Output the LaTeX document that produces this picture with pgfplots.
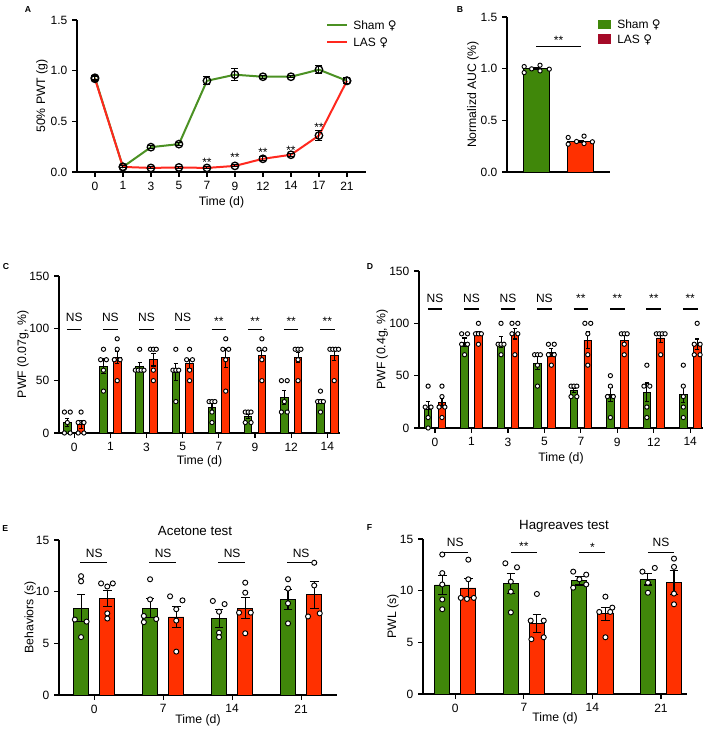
\documentclass[border=0pt]{standalone}
\usepackage{fontspec}
\setmainfont{Liberation Sans}
\newfontfamily\symf{DejaVu Sans}
\usepackage{pgfplots}
\pgfplotsset{compat=1.18}

\definecolor{shamg}{RGB}{64,135,10}
\definecolor{lasr}{RGB}{255,48,0}
\definecolor{lasleg}{RGB}{165,10,40}
\definecolor{shamline}{RGB}{75,145,35}
\definecolor{lasline}{RGB}{255,40,30}

\tikzset{
  sig/.style={font=\fontsize{9}{10}\selectfont, inner sep=0pt},
  star/.style={sig, yshift=-1.9pt},
}

\pgfplotsset{
  prism/.style={
    scale only axis, clip=false,
    axis lines=left, axis line style={-, line width=0.9pt},
    tick align=outside, major tick length=3.75pt,
    tick style={black, line width=0.9pt},
    ymin=0,
    tick label style={font=\fontsize{9}{10}\selectfont},
    label style={font=\fontsize{9.2}{11}\selectfont},
    /pgf/number format/assume math mode=true,
    xlabel={Time (d)},
    xlabel style={at={(axis description cs:0.5,0)}, anchor=center, yshift=-#1},
  },
  prism/.default=18.75pt,
  bars/.style={ybar, bar shift=0, draw=black, line width=0.7pt,
    error bars/y dir=both, error bars/y explicit,
    error bars/error bar style={black, line width=0.8pt},
    error bars/error mark options={rotate=90, mark size=#1, line width=0.8pt}},
  dots/.style={only marks, mark=*, mark size=#1,
    mark options={fill=white, draw=black, line width=0.7pt}},
}

\begin{document}
\begin{tikzpicture}
\path[use as bounding box] (0,0) rectangle (531pt,547.5pt);

% ---------------- A ----------------
\begin{axis}[prism=22.5pt, at={(57.75pt,418.5pt)}, anchor=south west,
  width=216.75pt, height=114pt,
  xmin=-0.64, xmax=9.68, ymax=1.5,
  xtick={0,...,9}, xticklabels={0,1,3,5,7,9,12,14,17,21},
  ytick={0,0.5,1,1.5},
  yticklabel style={/pgf/number format/fixed, /pgf/number format/fixed zerofill, /pgf/number format/precision=1},
  ylabel={50\% PWT (g)},
  ylabel style={at={(axis description cs:-0.121,0.5)}, anchor=center}]
\addplot[shamline, line width=1.5pt] coordinates {(0,0.93)(1,0.05)(2,0.245)(3,0.275)(4,0.90)(5,0.96)(6,0.94)(7,0.94)(8,1.01)(9,0.90)};
\addplot[lasline, line width=1.5pt] coordinates {(0,0.92)(1,0.05)(2,0.04)(3,0.045)(4,0.04)(5,0.06)(6,0.13)(7,0.17)(8,0.36)(9,0.90)};
\addplot[black, only marks, mark=o, mark size=2.8pt, mark options={line width=1pt},
  error bars/y dir=both, error bars/y explicit,
  error bars/error bar style={black, line width=0.8pt},
  error bars/error mark options={rotate=90, mark size=2.6pt, line width=0.8pt}]
  coordinates {(0,0.93)+-(0,0.02) (1,0.05)+-(0,0.01) (2,0.245)+-(0,0.015) (3,0.275)+-(0,0.015) (4,0.90)+-(0,0.04) (5,0.96)+-(0,0.06) (6,0.94)+-(0,0.015) (7,0.94)+-(0,0.012) (8,1.01)+-(0,0.04) (9,0.90)+-(0,0.03)};
\addplot[black, only marks, mark=o, mark size=2.8pt, mark options={line width=1pt},
  error bars/y dir=both, error bars/y explicit,
  error bars/error bar style={black, line width=0.8pt},
  error bars/error mark options={rotate=90, mark size=2.6pt, line width=0.8pt}]
  coordinates {(0,0.92)+-(0,0.02) (1,0.05)+-(0,0.01) (2,0.04)+-(0,0.01) (3,0.045)+-(0,0.01) (4,0.04)+-(0,0.01) (5,0.06)+-(0,0.01) (6,0.13)+-(0,0.02) (7,0.17)+-(0,0.015) (8,0.36)+-(0,0.05) (9,0.90)+-(0,0.03)};
\node[star] at (axis cs:4,0.115) {**};
\node[star] at (axis cs:5,0.165) {**};
\node[star] at (axis cs:6,0.215) {**};
\node[star] at (axis cs:7,0.24) {**};
\node[star] at (axis cs:8,0.465) {**};
\end{axis}

% ---------------- B ----------------
\begin{axis}[prism, at={(380.25pt,418.5pt)}, anchor=south west,
  width=77.25pt, height=116.25pt,
  xmin=-0.66, xmax=1.68, ymax=1.5, xtick=\empty, xlabel={},
  ytick={0,0.5,1,1.5},
  yticklabel style={/pgf/number format/fixed, /pgf/number format/fixed zerofill, /pgf/number format/precision=1},
  ylabel={Normalizd AUC (\%)},
  ylabel style={at={(axis description cs:-0.33,0.5)}, anchor=center}]
\addplot[bars=2.6pt, bar width=0.59, fill=shamg] coordinates {(0,1.0)+-(0,0.012)};
\addplot[bars=2.6pt, bar width=0.59, fill=lasr] coordinates {(1,0.295)+-(0,0.012)};
\addplot[dots=1.6pt] coordinates {(-0.27,1.02)(-0.27,0.962)(-0.1,0.998)(0.09,1.033)(0.09,0.978)(0.30,0.995)};
\addplot[dots=1.6pt] coordinates {(0.73,0.334)(0.73,0.269)(0.92,0.295)(1.09,0.347)(1.09,0.275)(1.28,0.292)};
\draw[black, line width=0.8pt] (axis cs:0,1.21) -- (axis cs:1.02,1.21);
\node[star] at (axis cs:0.51,1.297) {**};
\end{axis}

% ---------------- C ----------------
\begin{axis}[prism=21pt, at={(44.25pt,222.75pt)}, anchor=south west,
  width=210.75pt, height=117.75pt,
  xmin=-0.42, xmax=7.35, ymax=150,
  xtick={0,...,7}, xticklabels={0,1,3,5,7,9,12,14},
  ytick={0,50,100,150},
  ylabel={PWF (0.07g, \%)},
  ylabel style={at={(axis description cs:-0.128,0.5)}, anchor=center}]
\addplot[bars=1.6pt, bar width=0.21, fill=shamg] coordinates {
  (-0.19,10)+-(0,4) (0.81,64)+-(0,7) (1.81,64)+-(0,3) (2.81,58)+-(0,8) (3.81,24)+-(0,5) (4.81,16)+-(0,2) (5.81,34)+-(0,7) (6.81,30)+-(0,2)};
\addplot[bars=1.6pt, bar width=0.21, fill=lasr] coordinates {
  (0.19,8)+-(0,4) (1.19,72)+-(0,6) (2.19,70)+-(0,6) (3.19,66)+-(0,4) (4.19,72)+-(0,9) (5.19,74)+-(0,5) (6.19,72)+-(0,5) (7.19,74)+-(0,5)};
\addplot[dots=1.6pt] coordinates {
  (-0.27,20)(-0.11,20)(-0.19,10)(-0.27,0)(-0.11,0)
  (0.81,80)(0.73,70)(0.89,70)(0.81,60)(0.81,40)
  (1.81,80)(1.69,60)(1.77,60)(1.85,60)(1.93,60)
  (2.81,80)(2.73,60)(2.81,60)(2.89,60)(2.81,30)
  (3.73,30)(3.81,30)(3.89,30)(3.81,20)(3.81,10)
  (4.73,20)(4.81,20)(4.89,20)(4.73,10)(4.89,10)
  (5.73,50)(5.89,50)(5.81,30)(5.73,20)(5.89,20)
  (6.81,40)(6.73,30)(6.81,30)(6.89,30)(6.81,20)};
\addplot[dots=1.6pt] coordinates {
  (0.19,20)(0.11,10)(0.27,10)(0.11,0)(0.27,0)
  (1.19,90)(1.19,80)(1.11,70)(1.27,70)(1.19,50)
  (2.11,80)(2.19,80)(2.27,80)(2.19,60)(2.19,50)
  (3.19,80)(3.11,70)(3.27,70)(3.19,60)(3.19,50)
  (4.19,90)(4.11,80)(4.27,80)(4.19,70)(4.19,40)
  (5.19,90)(5.11,80)(5.27,80)(5.19,70)(5.19,50)
  (6.11,80)(6.19,80)(6.27,80)(6.19,70)(6.19,50)
  (7.07,80)(7.15,80)(7.23,80)(7.31,80)(7.19,50)};
\pgfplotsinvokeforeach{0,...,7}{\draw[black, line width=0.8pt] (axis cs:#1-0.2,99) -- (axis cs:#1+0.2,99);}
\pgfplotsinvokeforeach{0,...,3}{\node[sig] at (axis cs:#1,110.8) {NS};}
\pgfplotsinvokeforeach{4,...,7}{\node[star] at (axis cs:#1,108.9) {**};}
\end{axis}

% ---------------- D ----------------
\begin{axis}[prism=23pt, at={(314.25pt,226.5pt)}, anchor=south west,
  width=213pt, height=117.75pt,
  xmin=-0.44, xmax=7.35, ymax=150,
  xtick={0,...,7}, xticklabels={0,1,3,5,7,9,12,14},
  ytick={0,50,100,150},
  ylabel={PWF (0.4g, \%)},
  ylabel style={at={(axis description cs:-0.130,0.5)}, anchor=center}]
\addplot[bars=1.6pt, bar width=0.21, fill=shamg] coordinates {
  (-0.19,18)+-(0,7) (0.81,82)+-(0,4) (1.81,82)+-(0,5) (2.81,62)+-(0,6) (3.81,36)+-(0,2) (4.81,32)+-(0,7) (5.81,34)+-(0,9) (6.81,32)+-(0,8)};
\addplot[bars=1.6pt, bar width=0.21, fill=lasr] coordinates {
  (0.19,24)+-(0,4) (1.19,90)+-(0,2) (2.19,90)+-(0,5) (3.19,72)+-(0,4) (4.19,84)+-(0,8) (5.19,84)+-(0,4) (6.19,86)+-(0,4) (7.19,80)+-(0,5)};
\addplot[dots=1.6pt] coordinates {
  (-0.19,40)(-0.27,20)(-0.11,20)(-0.19,10)(-0.19,0)
  (0.73,90)(0.89,90)(0.73,80)(0.89,80)(0.81,70)
  (1.81,100)(1.73,80)(1.81,80)(1.89,80)(1.81,70)
  (2.73,70)(2.81,70)(2.89,70)(2.81,60)(2.81,40)
  (3.73,40)(3.81,40)(3.89,40)(3.73,30)(3.89,30)
  (4.81,50)(4.81,40)(4.73,30)(4.89,30)(4.81,10)
  (5.81,60)(5.73,40)(5.89,40)(5.81,20)(5.81,10)
  (6.81,60)(6.81,40)(6.81,30)(6.81,20)(6.81,10)};
\addplot[dots=1.6pt] coordinates {
  (0.19,40)(0.19,30)(0.11,20)(0.27,20)(0.19,10)
  (1.19,100)(1.11,90)(1.19,90)(1.27,90)(1.19,80)
  (2.11,100)(2.27,100)(2.11,90)(2.27,90)(2.19,70)
  (3.11,80)(3.27,80)(3.11,70)(3.27,70)(3.19,60)
  (4.11,100)(4.27,100)(4.19,90)(4.19,70)(4.19,60)
  (5.11,90)(5.19,90)(5.27,90)(5.19,80)(5.19,70)
  (6.07,90)(6.15,90)(6.23,90)(6.31,90)(6.19,70)
  (7.19,100)(7.11,80)(7.27,80)(7.11,70)(7.27,70)};
\pgfplotsinvokeforeach{0,...,7}{\draw[black, line width=0.8pt] (axis cs:#1-0.2,113.7) -- (axis cs:#1+0.2,113.7);}
\pgfplotsinvokeforeach{0,...,3}{\node[sig] at (axis cs:#1,124.2) {NS};}
\pgfplotsinvokeforeach{4,...,7}{\node[star] at (axis cs:#1,126) {**};}
\end{axis}

% ---------------- E ----------------
\begin{axis}[prism=18.75pt, at={(44.25pt,26.25pt)}, anchor=south west,
  width=208.5pt, height=116.25pt,
  xmin=-0.51, xmax=3.52, ymax=15,
  xtick={0,...,3}, xticklabels={0,7,14,21},
  ytick={0,5,10,15},
  ylabel={Behaviors (s)},
  ylabel style={at={(axis description cs:-0.104,0.5)}, anchor=center}]
\addplot[bars=3.2pt, bar width=0.22, fill=shamg] coordinates {
  (-0.19,8.4)+-(0,1.3) (0.81,8.4)+-(0,0.9) (1.81,7.4)+-(0,0.9) (2.81,9.25)+-(0,1.0)};
\addplot[bars=3.2pt, bar width=0.22, fill=lasr] coordinates {
  (0.19,9.35)+-(0,0.8) (1.19,7.55)+-(0,1.05) (2.19,8.4)+-(0,1.0) (3.19,9.7)+-(0,1.3)};
\addplot[dots=1.9pt] coordinates {
  (-0.19,11.5)(-0.19,11.0)(-0.28,7.3)(-0.11,7.1)(-0.19,5.6)
  (0.81,11.2)(0.81,9.25)(0.72,7.65)(0.90,7.35)(0.72,7.05)
  (1.72,9.1)(1.89,8.8)(1.81,8.06)(1.81,6.03)(1.81,5.6)
  (2.81,11.2)(2.81,10.3)(2.81,8.87)(2.81,6.93)};
\addplot[dots=1.9pt] coordinates {
  (0.10,10.8)(0.19,10.5)(0.27,10.8)(0.19,7.9)(0.19,7.4)
  (1.10,9.55)(1.28,9.16)(1.19,8.3)(1.19,7.2)(1.19,4.2)
  (2.19,10.87)(2.19,9.9)(2.10,7.97)(2.27,7.97)(2.19,5.97)
  (3.19,12.8)(3.19,10.6)(3.27,7.9)(3.10,7.6)};
\pgfplotsinvokeforeach{0,...,3}{\draw[black, line width=0.8pt] (axis cs:#1-0.2,12.8) -- (axis cs:#1+0.19,12.8);}
\pgfplotsinvokeforeach{0,...,3}{\node[sig] at (axis cs:#1,13.75) {NS};}
\end{axis}

% ---------------- F ----------------
\begin{axis}[prism=18pt, at={(317.25pt,27pt)}, anchor=south west,
  width=198pt, height=116.25pt,
  xmin=-0.471, xmax=3.38, ymax=15,
  xtick={0,...,3}, xticklabels={0,7,14,21},
  ytick={0,5,10,15},
  ylabel={PWL (s)},
  ylabel style={at={(axis description cs:-0.114,0.5)}, anchor=center}]
\addplot[bars=3.2pt, bar width=0.22, fill=shamg] coordinates {
  (-0.19,10.55)+-(0,0.95) (0.81,10.7)+-(0,0.95) (1.81,10.95)+-(0,0.4) (2.81,11.1)+-(0,0.55)};
\addplot[bars=3.2pt, bar width=0.22, fill=lasr] coordinates {
  (0.19,10.26)+-(0,0.9) (1.19,6.8)+-(0,0.85) (2.19,7.75)+-(0,0.65) (3.19,10.8)+-(0,1.15)};
\addplot[dots=1.9pt] coordinates {
  (-0.19,13.5)(-0.19,11.7)(-0.19,10.6)(-0.19,9.15)(-0.19,8.2)
  (0.73,12.65)(0.90,12.26)(0.81,10.87)(0.81,9.9)(0.81,7.9)
  (1.72,11.84)(1.91,11.55)(1.81,11.1)(1.91,10.6)(1.72,10.29)
  (2.73,11.84)(2.91,12.2)(2.81,10.77)(2.81,9.8)};
\addplot[dots=1.9pt] coordinates {
  (0.19,13.0)(0.19,11.1)(0.08,9.3)(0.17,9.2)(0.27,9.3)
  (1.19,9.68)(1.10,7.1)(1.29,7.1)(1.29,5.49)(1.11,5.3)
  (2.19,9.42)(2.29,8.36)(2.10,7.94)(2.26,7.94)(2.19,5.49)
  (3.19,13.1)(3.19,12.3)(3.19,9.72)(3.19,8.68)};
\pgfplotsinvokeforeach{0,...,3}{\draw[black, line width=0.8pt] (axis cs:#1-0.19,13.7) -- (axis cs:#1+0.19,13.7);}
\node[sig] at (axis cs:0,14.65) {NS};
\node[star] at (axis cs:1,14.5) {**};
\node[star] at (axis cs:2,14.4) {*};
\node[sig] at (axis cs:3,14.65) {NS};
\end{axis}

% ---------------- letters, titles, legends (pixel grid) ----------------
\begin{scope}[x=0.75pt, y=-0.75pt, shift={(0pt,547.5pt)}]
\tikzset{letter/.style={font=\fontsize{6.5}{7}\selectfont\bfseries, anchor=base, inner sep=0pt}}
\node[letter] at (28,13) {A};
\node[letter] at (460,13) {B};
\node[letter] at (6,269.3) {C};
\node[letter] at (370,270) {D};
\node[letter] at (5.3,531.3) {E};
\node[letter] at (369.5,530.7) {F};
\node[font=\fontsize{10}{12}\selectfont, anchor=base, inner sep=0pt] at (195,536) {Acetone test};
\node[font=\fontsize{10}{12}\selectfont, anchor=base, inner sep=0pt] at (564,530) {Hagreaves test};
\tikzset{leg/.style={font=\fontsize{9}{10}\selectfont, anchor=base west, inner sep=0pt}}
\draw[shamline, line width=1.5pt] (327,25) -- (347,25);
\draw[lasline, line width=1.5pt] (327,42) -- (347,42);
\node[leg] at (353,29.3) {Sham {\symf ♀}};
\node[leg] at (353,46.3) {LAS {\symf ♀}};
\fill[shamg] (598,20) rectangle (611,29.5);
\fill[lasleg] (598,34.3) rectangle (611,44.3);
\node[leg] at (617,29) {Sham {\symf ♀}};
\node[leg] at (617,43.6) {LAS {\symf ♀}};
\end{scope}
\end{tikzpicture}
\end{document}
